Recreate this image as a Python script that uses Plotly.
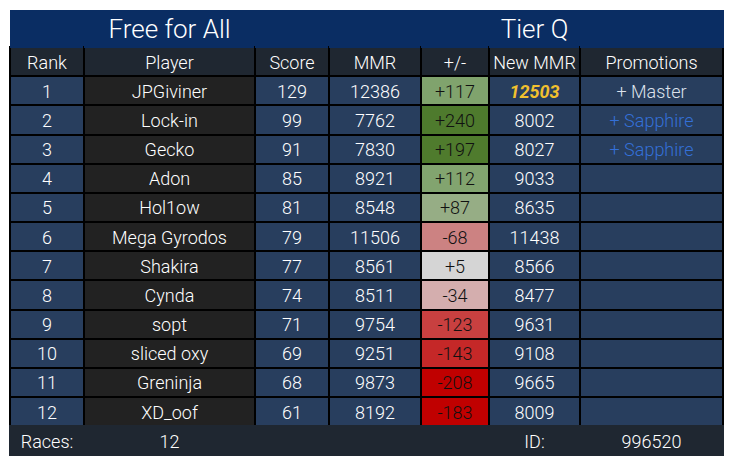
import plotly.graph_objects as go

ranks = ["1", "2", "3", "4", "5", "6", "7", "8", "9", "10", "11", "12"]
players = ["JPGiviner", "Lock-in", "Gecko", "Adon", "Hol1ow", "Mega Gyrodos", "Shakira", "Cynda",
           "sopt", "sliced oxy", "Greninja", "XD_oof"]
scores = ["129", "99", "91", "85", "81", "79", "77", "74", "71", "69", "68", "61"]
mmr = ["12386", "7762", "7830", "8921", "8548", "11506", "8561", "8511", "9754", "9251", "9873", "8192"]
delta = ["+117", "+240", "+197", "+112", "+87", "-68", "+5", "-34", "-123", "-143", "-208", "-183"]
new_mmr = ["12503", "8002", "8027", "9033", "8635", "11438", "8566", "8477", "9631", "9108", "9665", "8009"]
promotions = ["+ Master", "+ Sapphire", "+ Sapphire", "", "", "", "", "", "", "", "", ""]

# non-breaking spaces so the table does not wrap these
col_names = ["Rank", "Player", "Score", "MMR", "+/-", "New\u00a0MMR", "Promotions"]
title_row = ["", "Free\u00a0for\u00a0All", "", "", "", "Tier\u00a0Q", ""]
footer_row = ["Races:", "12", "", "", "", "ID:", "996520"]

# colours
navy = "#0a2d63"
dark = "#1f2731"
blue = "#283e5e"
grey = "#222222"
delta_fill = ["#80a36d", "#4e7a2d", "#4f7b2d", "#82a46f", "#96ad85", "#cc8282", "#d5d5d5", "#d4aeae",
              "#c84040", "#c52828", "#c00000", "#c00000"]
new_mmr_color = ["#f2c12e"] + ["#ffffff"] * 11
promo_color = ["#dce2ec", "#3470d8", "#3470d8"] + ["#ffffff"] * 9

columns = [ranks, players, scores, mmr, delta, new_mmr, promotions]
values = [[col_names[i]] + columns[i] + [footer_row[i]] for i in range(7)]

fills = [[dark] + [blue] * 12 + [dark] for i in range(7)]
fills[1] = [dark] + [grey] * 12 + [dark]
fills[4] = [dark] + delta_fill + [dark]

font_colors = [["#ffffff"] * 14 for i in range(7)]
font_colors[4] = ["#ffffff"] + ["#111111"] * 12 + ["#ffffff"]
font_colors[5] = ["#ffffff"] + new_mmr_color + ["#ffffff"]
font_colors[6] = ["#ffffff"] + promo_color + ["#ffffff"]

# light text everywhere, only the gold 12503 is bold italic
font_weight = [[300] * 14 for i in range(7)]
font_style = [["normal"] * 14 for i in range(7)]
font_weight[5][1] = 700
font_style[5][1] = "italic"

line_colors = [["#000000"] * 13 + [dark] for i in range(7)]

fig = go.Figure(go.Table(
    columnwidth=[74, 171, 74, 92, 68, 91, 143],
    header=dict(
        values=title_row,
        height=37,
        fill_color=navy,
        line_color=navy,
        align="center",
        font=dict(family="Roboto", size=26, color="#ffffff", weight=300),
    ),
    cells=dict(
        values=values,
        height=29.17,
        fill_color=fills,
        line=dict(color=line_colors, width=2),
        align="center",
        font=dict(family="Roboto", size=18, color=font_colors),
    ),
))
# the page body has an 8px margin, so the figure is 16px smaller than the window
fig.update_layout(
    width=717,
    height=449,
    margin=dict(l=2, r=2, t=2, b=1),
    paper_bgcolor="#ffffff",
)

# plotly.py only accepts 1D lists here but plotly.js reads per-cell values,
# and a <b><i> tag would make the table grow that row
fig._data[0]["cells"]["font"]["weight"] = font_weight
fig._data[0]["cells"]["font"]["style"] = font_style

fig.write_html("out.html")
